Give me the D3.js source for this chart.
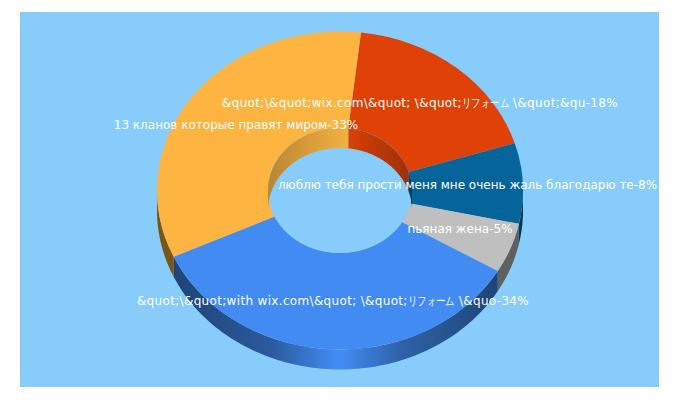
<!DOCTYPE html>
<html><head><meta charset="utf-8">
<script src="https://cdn.jsdelivr.net/npm/d3@7"></script>
<style>html,body{margin:0;padding:0;background:#fff}svg{display:block}</style>
</head><body><svg id="c" width="680" height="400"></svg>
<script>
const categories=["&quot;\\&quot;wix.com\\&quot; \\&quot;リフォーム \\&quot;&qu","люблю тебя прости меня мне очень жаль благодарю те","пьяная жена","&quot;\\&quot;with wix.com\\&quot; \\&quot;リフォーム \\&quo","13 кланов которые правят миром"];
const values=[18,8,5,34,33];
const colors=["#e04107","#056499","#bfbfbf","#428bf2","#fdb441"];
const wallColors=[["#e04107","#a33006"],["#03405f","#022c42"],["#5f5f5f","#5f5f5f"],["#1f4478","#428bf2"],["#7a5518","#7a5518"]];
const innerColors=[["#d94007","#a03008"],["#03405f","#03405f"],["#5f5f5f","#5f5f5f"],["#1f4478","#1f4478"],["#b98633","#f5b040"]];
const labelX=[420,467.5,460,333,236];
const labelY=[107,188.5,233,305,129];
const bg="#87ccfb";
const cx=340,cy=190.5,rx=183,ry=159,irx=72,iry=62.5,depth=20;
const startAngle=0.115;
const svg=d3.select("#c");
svg.append("rect").attr("x",20).attr("y",12).attr("width",639).attr("height",375).attr("fill",bg);
const defs=svg.append("defs");
const slices=d3.pie().sort(null).startAngle(startAngle).endAngle(startAngle+2*Math.PI).value(d=>d)(values);
const line=d3.line();
const arcPts=(a0,a1,fx,fy,dy)=>{const n=Math.max(2,Math.ceil(Math.abs(a1-a0)*40));
  return d3.range(n+1).map(k=>{const a=a0+(a1-a0)*k/n;return [cx+Math.sin(a)*fx,cy-Math.cos(a)*fy+dy];});};
const sx=a=>cx+Math.sin(a)*rx;
function grad(id,x1,x2,stops){const g=defs.append("linearGradient").attr("id",id).attr("gradientUnits","userSpaceOnUse").attr("x1",x1).attr("x2",x2).attr("y1",0).attr("y2",0);
  stops.forEach(s=>g.append("stop").attr("offset",s[0]).attr("stop-color",s[1]));return `url(#${id})`;}
const clipIn=(a0,a1,lo,hi)=>{
  for(const k of [-1,0,1]){const s=Math.max(a0,lo+k*2*Math.PI),e=Math.min(a1,hi+k*2*Math.PI);if(e>s)return [s,e];}return null;};
// outer walls: front half only
slices.forEach((s,i)=>{const r=clipIn(s.startAngle,s.endAngle,Math.PI/2,3*Math.PI/2);if(!r)return;
  const x0=Math.min(sx(r[0]),sx(r[1])),x1=Math.max(sx(r[0]),sx(r[1]));
  const fill=i===3?grad("w3",x0,x1,[[0,"#1f4478"],[0.3,"#2b5a9c"],[0.5,"#428bf2"],[0.52,"#428bf2"],[0.7,"#2f62a8"],[1,"#1f4478"]]):grad("w"+i,x0,x1,[[0,wallColors[i][0]],[1,wallColors[i][1]]]);
  const top=arcPts(r[0],r[1],rx,ry,0),bot=arcPts(r[1],r[0],rx,ry,depth);
  svg.append("path").attr("d",line(top.concat(bot))+"Z").attr("fill",fill);});
// top faces
const arc=d3.arc().innerRadius(irx).outerRadius(rx);
const faces=svg.append("g").attr("transform",`translate(${cx},${cy}) scale(1,${ry/rx})`);
slices.forEach((s,i)=>faces.append("path").attr("d",arc(s)).attr("fill",colors[i]));
// hole
svg.append("ellipse").attr("cx",cx).attr("cy",cy).attr("rx",irx).attr("ry",iry).attr("fill",bg);
// inner walls: back half only
slices.forEach((s,i)=>{const r=clipIn(s.startAngle,s.endAngle,-Math.PI/2,Math.PI/2);if(!r)return;
  const xs=[r[0],r[1]].map(a=>cx+Math.sin(a)*irx);
  const fill=grad("n"+i,Math.min(...xs),Math.max(...xs),[[0,innerColors[i][0]],[1,innerColors[i][1]]]);
  const top=arcPts(r[0],r[1],irx,iry,0),bot=arcPts(r[1],r[0],irx,iry,depth);
  svg.append("path").attr("d",line(top.concat(bot))+"Z").attr("fill",fill);});
categories.forEach((c,i)=>{
  const t=svg.append("text").attr("x",labelX[i]).attr("y",labelY[i]).attr("text-anchor","middle").attr("fill","#fff").attr("font-family","'DejaVu Sans',sans-serif").attr("font-size",12);
  const parts=(c+"-"+values[i]+"%").split(/(リフォーム)/);
  if(parts.length>1)t.attr("letter-spacing",0.33);
  parts.forEach((p,k)=>{const sp=t.append("tspan").text(p);if(k%2===1)sp.attr("letter-spacing",0).attr("textLength",47).attr("lengthAdjust","spacingAndGlyphs");});
});
</script></body></html>
